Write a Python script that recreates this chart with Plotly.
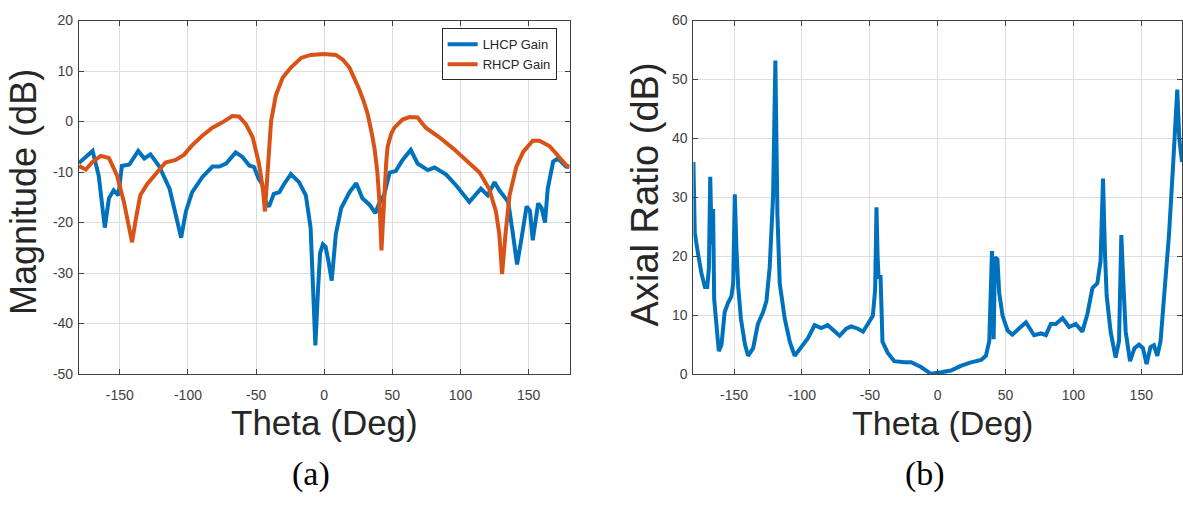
import plotly.graph_objects as go

# ---------------- data ----------------
lhcp_theta = [-180, -175, -170, -165.5, -161, -158, -154.5, -151, -148.5, -143, -136.5, -132, -127.5,
              -121, -113.5, -109, -105, -101.5, -97, -89.5, -82, -77, -72, -65, -60, -55, -51.5,
              -48, -45.5, -43, -40.5, -37, -33, -29.5, -24.5, -18.5, -13.5, -10, -8.5, -7.5, -6.5,
              -4.5, -3, -1, 1, 3, 5.5, 8.5, 12.5, 18.5, 23.5, 28, 33, 37.5, 40, 44, 48, 52.5,
              57.5, 63.5, 68.5, 76, 81, 89.5, 97, 106.5, 115, 120, 125, 128.5, 135, 138.5,
              141.5, 144.5, 148.5, 151, 153, 157, 159.5, 162, 164, 168, 171.5, 177.5, 180]
lhcp_db = [-8.2, -7.0, -5.8, -10.7, -21.0, -15.2, -13.6, -14.6, -8.8, -8.5, -5.8, -7.3, -6.5,
           -8.9, -13.3, -18.4, -23.0, -17.8, -14.0, -11.0, -8.9, -8.9, -8.3, -6.1, -7.0, -8.7, -9.0,
           -11.4, -12.4, -15.9, -16.8, -14.3, -14.0, -12.4, -10.4, -12.0, -14.6, -21.0, -30.0, -36.0, -44.3,
           -33.0, -26.0, -24.3, -24.8, -27.5, -31.5, -22.3, -17.1, -14.0, -12.2, -15.2, -16.4, -18.1, -16.4, -14.5, -10.1, -9.8,
           -7.6, -5.6, -8.3, -9.6, -9.1, -10.5, -12.7, -15.9, -13.3, -14.6, -12.0, -13.6, -15.9, -22.3,
           -28.3, -23.6, -16.8, -17.7, -23.5, -16.2, -17.1, -20.0, -13.3, -7.9, -7.3, -8.9, -9.0]

rhcp_theta = [-180, -175, -170, -164, -158, -152, -147, -143.5, -141, -138.5, -135, -130, -122.5,
              -116.5, -109, -103, -97, -89.5, -82, -75, -67.5, -62.5, -57.5, -52.5, -48, -45,
              -43.5, -41.5, -39, -35.5, -30.5, -24.5, -17, -10, 0, 8.5, 13.5, 18.5, 22, 25.5,
              29, 32, 35, 37, 39, 40.5, 42, 43, 44, 45.5, 46.5, 49, 51.5, 57.5, 62.5, 68.5,
              74.5, 84.5, 94.5, 104, 114, 121, 126, 128.5, 130.5, 133, 136, 141, 146, 153, 158,
              165.5, 171.5, 177.5, 180]
rhcp_db = [-8.8, -9.5, -8.0, -6.8, -7.2, -10.7, -15.9, -21.0, -23.9, -19.7, -14.6, -12.4, -10.1,
           -8.1, -7.6, -6.6, -4.7, -2.8, -1.2, -0.2, 1.1, 1.0, -0.5, -3.1, -8.2, -13.3,
           -17.8, -10.7, 0.1, 5.2, 8.7, 10.7, 12.6, 13.2, 13.4, 13.2, 12.3, 10.7, 8.8, 6.5,
           4.0, 1.4, -2.5, -5.5, -10.0, -15.9, -25.5, -20.0, -13.3, -8.0, -5.0, -2.5, -1.2, 0.4, 0.9, 0.8,
           -1.2, -3.1, -5.3, -7.6, -10.1, -13.3, -17.8, -22.3, -30.2, -22.3, -14.6, -8.9, -6.0, -3.8, -3.8,
           -4.9, -6.9, -8.6, -9.0]

ar_theta = [-180, -179, -176.5, -174, -171.5, -169.8, -168.6, -167.6, -166.5, -165.5, -164.7, -163,
            -161.3, -159.3, -157, -154.5, -152, -150.7, -149.5, -148.3, -147, -145, -142, -139.7,
            -136, -132.5, -128.7, -126.2, -123.8, -121.3, -119.6, -118.1, -116.4, -112.7, -109,
            -105.4, -100.5, -95.6, -90.7, -85.8, -81, -76, -72.3, -67.4, -63.7, -58.8, -55, -51.5,
            -47.8, -46.1, -45.1, -44.3, -43.6, -42.1, -40.7, -36.8, -32, -24.5, -19.6, -12.3, -5,
            2.5, 9.8, 17, 24.5, 32, 35.5, 38, 40, 41.2, 42.2, 44, 45.3, 47.8, 51.5, 55, 60, 65,
            71, 76, 79.7, 83.3, 87, 92, 96.8, 101.7, 106.6, 110.3, 114, 117.6, 120, 121.8, 123.3,
            124.5, 127.4, 131.1, 133.6, 135.3, 136.8, 138.5, 141.7, 145, 148.3, 151.2, 153.9,
            156.8, 159.3, 161.8, 164.2, 166.7, 170.4, 173.5, 176.5, 178, 180]
ar_db = [36.0, 24.0, 20.3, 17.0, 14.8, 14.8, 18.0, 33.5, 22.0, 28.0, 12.7, 7.2,
         3.9, 5.0, 10.5, 12.1, 13.2, 15.4, 30.5, 21.4, 14.8, 9.4, 5.0, 3.1,
         4.4, 8.5, 10.5, 12.4, 18.1, 30.2, 53.2, 27.0, 15.4, 9.4, 5.5,
         3.1, 4.7, 6.1, 8.3, 7.8, 8.3, 7.2, 6.5, 7.7, 8.1, 7.7, 7.2, 8.5,
         9.9, 14.3, 28.3, 20.0, 16.5, 16.5, 5.5, 3.6, 2.2, 2.0, 2.0, 1.2, 0.05,
         0.3, 0.6, 1.4, 2.0, 2.4, 3.1, 5.6, 20.9, 5.9, 19.8, 19.5, 13.8, 9.9, 7.4, 6.7, 7.7, 8.8,
         6.6, 6.9, 6.6, 8.5, 8.5, 9.5, 8.0, 8.5, 7.2, 10.2, 14.6, 15.4, 19.2, 33.2, 20.2,
         13.3, 7.2, 2.8, 5.6, 23.6, 15.4, 7.2, 2.2, 4.4, 5.0, 4.4, 1.7,
         4.6, 4.9, 3.1, 5.6, 12.7, 23.6, 35.7, 48.3, 40.0, 36.0]

x_ticks = [-150, -100, -50, 0, 50, 100, 150]
x_ticklabels = ["-150", "-100", "-50", "0", "50", "100", "150"]
mag_ticks = [20, 10, 0, -10, -20, -30, -40, -50]
mag_ticklabels = ["20", "10", "0", "-10", "-20", "-30", "-40", "-50"]
ar_ticks = [0, 10, 20, 30, 40, 50, 60]
ar_ticklabels = ["0", "10", "20", "30", "40", "50", "60"]

# ---------------- figure ----------------
W, H = 1183, 508
BLUE = "#0072BD"
ORANGE = "#D95319"
AXC = "#404040"
GRID = "#dedede"
LW = 4

fig = go.Figure()
fig.add_trace(go.Scatter(x=lhcp_theta, y=lhcp_db, mode="lines", name="LHCP Gain",
                         line=dict(color=BLUE, width=LW), xaxis="x", yaxis="y"))
fig.add_trace(go.Scatter(x=rhcp_theta, y=rhcp_db, mode="lines", name="RHCP Gain",
                         line=dict(color=ORANGE, width=LW), xaxis="x", yaxis="y"))
fig.add_trace(go.Scatter(x=ar_theta, y=ar_db, mode="lines", name="Axial Ratio",
                         line=dict(color=BLUE, width=LW), xaxis="x2", yaxis="y2",
                         showlegend=False))

axis_common = dict(showline=True, linecolor=AXC, linewidth=1, mirror="ticks",
                   ticks="inside", ticklen=5, tickcolor=AXC, showgrid=True,
                   gridcolor=GRID, gridwidth=1, zeroline=False,
                   tickfont=dict(family="Liberation Sans, Arial", size=14, color=AXC))

ytop = 1 - 13 / H
ybot = 1 - 378 / H

fig.update_layout(
    width=W, height=H,
    margin=dict(l=0, r=0, t=0, b=0),
    paper_bgcolor="white", plot_bgcolor="white",
    xaxis=dict(domain=[79 / W, 570 / W], range=[-180, 180], tickvals=x_ticks,
               ticktext=x_ticklabels, ticklabelstandoff=8, anchor="y", **axis_common),
    yaxis=dict(domain=[ybot, ytop], range=[-50, 20], tickvals=mag_ticks,
               ticktext=mag_ticklabels, ticklabelstandoff=2, anchor="x", **axis_common),
    xaxis2=dict(domain=[694 / W, 1.0], range=[-180, 180], tickvals=x_ticks,
                ticktext=x_ticklabels, ticklabelstandoff=8, anchor="y2", **axis_common),
    yaxis2=dict(domain=[ybot, ytop], range=[0, 60], tickvals=ar_ticks,
                ticktext=ar_ticklabels, ticklabelstandoff=2, anchor="x2", **axis_common),
    legend=dict(x=442 / W, y=1 - 21 / H, xanchor="left", yanchor="top",
                bgcolor="white", bordercolor="#262626", borderwidth=1,
                font=dict(family="Liberation Sans, Arial", size=13, color="#262626"),
                itemwidth=30, tracegroupgap=0),
    showlegend=True,
)

label_font = dict(family="Liberation Serif, Times New Roman", size=34, color="black")
annotations = [
    dict(text="Magnitude (dB)", x=23 / W, y=1 - 190 / H, textangle=-90,
         font=dict(family="Liberation Sans, Arial", size=36, color="#262626")),
    dict(text="Axial Ratio (dB)", x=645 / W, y=1 - 192 / H, textangle=-90,
         font=dict(family="Liberation Sans, Arial", size=38, color="#262626")),
    dict(text="Theta (Deg)", x=325 / W, y=1 - 428 / H,
         font=dict(family="Liberation Sans, Arial", size=35, color="#262626")),
    dict(text="Theta (Deg)", x=943 / W, y=1 - 428 / H,
         font=dict(family="Liberation Sans, Arial", size=34, color="#262626")),
    dict(text="(a)", x=311 / W, y=1 - 481 / H, font=label_font),
    dict(text="(b)", x=926 / W, y=1 - 481 / H, font=label_font),
]
for a in annotations:
    fig.add_annotation(xref="paper", yref="paper", showarrow=False,
                       xanchor="center", yanchor="middle", **a)

fig.write_html("out.html")
